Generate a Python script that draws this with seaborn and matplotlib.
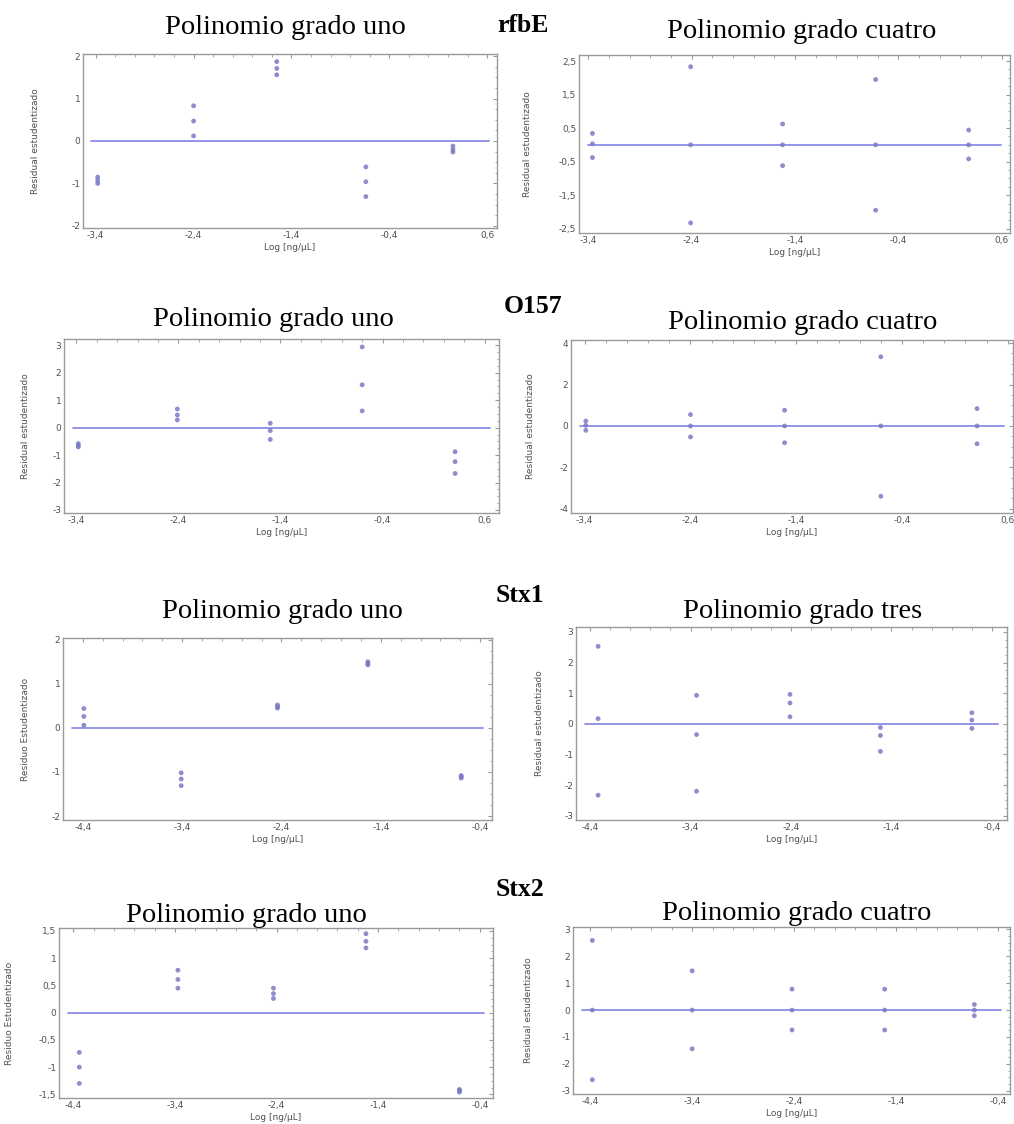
import numpy as np
import pandas as pd
import matplotlib
matplotlib.use("Agg")
import matplotlib.pyplot as plt
from matplotlib.ticker import AutoMinorLocator, FixedLocator, FixedFormatter
import seaborn as sns

# ---------------- data ----------------
genes = ["rfbE", "O157", "Stx1", "Stx2"]
titles_left = ["Polinomio grado uno", "Polinomio grado uno", "Polinomio grado uno", "Polinomio grado uno"]
titles_right = ["Polinomio grado cuatro", "Polinomio grado cuatro", "Polinomio grado tres", "Polinomio grado cuatro"]

# log concentration levels (x) and studentized residuals (3 replicates per level)
rfbE_g1_x = [-3.38, -2.40, -1.55, -0.64, 0.25]
rfbE_g1_res = [[-0.85, -0.93, -1.00], [0.83, 0.47, 0.12], [1.87, 1.71, 1.56],
               [-0.61, -0.96, -1.31], [-0.12, -0.20, -0.26]]
rfbE_g4_x = [-3.36, -2.41, -1.52, -0.62, 0.28]
rfbE_g4_res = [[0.34, 0.03, -0.38], [2.33, 0.0, -2.33], [0.62, 0.0, -0.62],
               [1.95, 0.0, -1.95], [0.44, 0.0, -0.42]]

o157_g1_x = [-3.38, -2.41, -1.50, -0.60, 0.31]
o157_g1_res = [[-0.58, -0.65, -0.70], [0.68, 0.46, 0.28], [0.16, -0.11, -0.43],
               [2.94, 1.56, 0.61], [-0.88, -1.24, -1.67]]
o157_g4_x = [-3.39, -2.40, -1.51, -0.60, 0.31]
o157_g4_res = [[0.24, 0.03, -0.21], [0.55, 0.0, -0.53], [0.76, 0.0, -0.81],
               [3.34, 0.0, -3.39], [0.84, 0.0, -0.86]]

stx1_g1_x = [-4.39, -3.41, -2.44, -1.53, -0.59]
stx1_g1_res = [[0.44, 0.26, 0.06], [-1.02, -1.16, -1.31], [0.52, 0.48, 0.45],
               [1.50, 1.46, 1.43], [-1.08, -1.11, -1.14]]
stx1_g3_x = [-4.32, -3.34, -2.41, -1.51, -0.60]
stx1_g3_res = [[2.53, 0.17, -2.33], [0.93, -0.35, -2.20], [0.96, 0.68, 0.23],
               [-0.12, -0.38, -0.90], [0.36, 0.12, -0.15]]

stx2_g1_x = [-4.34, -3.37, -2.43, -1.52, -0.60]
stx2_g1_res = [[-0.73, -1.00, -1.30], [0.78, 0.61, 0.45], [0.45, 0.35, 0.26],
               [1.45, 1.31, 1.19], [-1.41, -1.43, -1.46]]
stx2_g4_x = [-4.38, -3.40, -2.42, -1.51, -0.63]
stx2_g4_res = [[2.59, 0.0, -2.59], [1.46, 0.0, -1.44], [0.78, 0.0, -0.74],
               [0.78, 0.0, -0.74], [0.21, 0.0, -0.21]]

xticks_a = [-3.4, -2.4, -1.4, -0.4, 0.6]
xticks_b = [-4.4, -3.4, -2.4, -1.4, -0.4]
yt_p1 = [-2, -1, 0, 1, 2]
yt_p2 = [-2.5, -1.5, -0.5, 0.5, 1.5, 2.5]
yt_p3 = [-3, -2, -1, 0, 1, 2, 3]
yt_p4 = [-4, -2, 0, 2, 4]
yt_p5 = [-2, -1, 0, 1, 2]
yt_p6 = [-3, -2, -1, 0, 1, 2, 3]
yt_p7 = [-1.5, -1, -0.5, 0, 0.5, 1, 1.5]
yt_p8 = [-3, -2, -1, 0, 1, 2, 3]

ylabel_a = "Residual estudentizado"
ylabel_b = "Residuo Estudentizado"
xlabel = "Log [ng/µL]"

# ---------------- layout ----------------
W, H = 1014, 1124
sns.set_theme(style="white")
plt.rcParams["font.family"] = ["DejaVu Sans"]
fig = plt.figure(figsize=(W / 100, H / 100), dpi=100)
fig.patch.set_facecolor("white")


def fmt(v):
    return ("%g" % v).replace(".", ",")


panels = [
    # (x levels, residuals, frame px (x0,x1,y0,y1), xlim, ylim, xticks, yticks, ylabel, ylabel x px)
    (rfbE_g1_x, rfbE_g1_res, (83, 497, 54, 228), (-3.53, 0.70), (-2.05, 2.05), xticks_a, yt_p1, ylabel_a, 40),
    (rfbE_g4_x, rfbE_g4_res, (579, 1010, 55, 233), (-3.49, 0.68), (-2.63, 2.68), xticks_a, yt_p2, ylabel_a, 532),
    (o157_g1_x, o157_g1_res, (64, 499, 339, 513), (-3.52, 0.74), (-3.11, 3.23), xticks_a, yt_p3, ylabel_a, 30),
    (o157_g4_x, o157_g4_res, (571, 1013, 340, 513), (-3.53, 0.65), (-4.2, 4.15), xticks_a, yt_p4, ylabel_a, 535),
    (stx1_g1_x, stx1_g1_res, (63, 492, 638, 820), (-4.60, -0.28), (-2.09, 2.04), xticks_b, yt_p5, ylabel_b, 30),
    (stx1_g3_x, stx1_g3_res, (576, 1007, 627, 820), (-4.54, -0.25), (-3.14, 3.16), xticks_b, yt_p6, ylabel_a, 544),
    (stx2_g1_x, stx2_g1_res, (59, 493, 928, 1098), (-4.54, -0.27), (-1.567, 1.555), xticks_b, yt_p7, ylabel_b, 14),
    (stx2_g4_x, stx2_g4_res, (573, 1010, 927, 1094), (-4.57, -0.28), (-3.12, 3.09), xticks_b, yt_p8, ylabel_a, 533),
]

pt_color = "#7a7ac4"
line_color = "#8c8ce8"
frame_color = "#9a9a9a"
tick_txt = "#505050"

for xs, res, (x0, x1, y0, y1), xl, yl, xt, yt, ylab, ylx in panels:
    ax = fig.add_axes([x0 / W, 1 - y1 / H, (x1 - x0) / W, (y1 - y0) / H])
    df = pd.DataFrame({
        "x": np.repeat(xs, 3),
        "r": np.array(res).ravel(),
    })
    ax.axhline(0, xmin=0.02, xmax=0.98, color=line_color, lw=1.3, zorder=1)
    sns.scatterplot(data=df, x="x", y="r", ax=ax, marker="o", s=12,
                    color=pt_color, edgecolor="none", alpha=0.85, zorder=2)
    ax.set_xlim(*xl)
    ax.set_ylim(*yl)
    ax.xaxis.set_major_locator(FixedLocator(xt))
    ax.xaxis.set_major_formatter(FixedFormatter([fmt(v) for v in xt]))
    ax.yaxis.set_major_locator(FixedLocator(yt))
    ax.yaxis.set_major_formatter(FixedFormatter([fmt(v) for v in yt]))
    ax.xaxis.set_minor_locator(AutoMinorLocator(5))
    ax.yaxis.set_minor_locator(AutoMinorLocator(4))
    ax.tick_params(which="both", direction="in", top=True, right=True,
                   colors=frame_color, labelcolor=tick_txt, labelsize=6.5)
    ax.tick_params(which="major", length=3, width=0.8, pad=2)
    ax.tick_params(which="minor", length=1.8, width=0.6)
    for sp in ax.spines.values():
        sp.set_color(frame_color)
        sp.set_linewidth(1.0)
    ax.set_xlabel(xlabel, fontsize=6.5, color=tick_txt, labelpad=2)
    ax.set_ylabel(ylab, fontsize=6.5, color=tick_txt)
    ax.yaxis.set_label_coords((ylx - x0) / (x1 - x0), 0.5)
    ax.set_facecolor("white")
    ax.grid(False)


def ftext(xp, yp, s, **kw):
    fig.text(xp / W, 1 - yp / H, s, ha="center", va="center", **kw)


serif = ["Liberation Serif", "DejaVu Serif"]
gene_pos = [(523, 26), (533, 306), (520, 596), (520, 890)]
left_pos = [(285, 28), (273, 320), (282, 612), (246, 915)]
right_pos = [(802, 31), (803, 323), (803, 612), (797, 913)]
for g, (gx, gy) in zip(genes, gene_pos):
    ftext(gx, gy, g, family=serif, fontsize=18.5, fontweight="bold", color="black")
for t, (tx, ty) in zip(titles_left, left_pos):
    ftext(tx, ty, t, family=serif, fontsize=20.5, color="black")
for t, (tx, ty) in zip(titles_right, right_pos):
    ftext(tx, ty, t, family=serif, fontsize=20.5, color="black")

fig.savefig("out.png", dpi=100, facecolor="white")
